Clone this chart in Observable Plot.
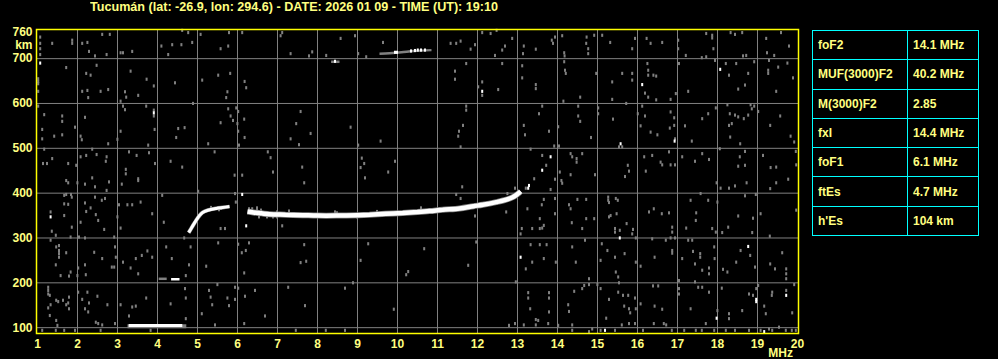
<!DOCTYPE html>
<html><head><meta charset="utf-8">
<script src="https://cdn.jsdelivr.net/npm/d3@7"></script>
<script src="https://cdn.jsdelivr.net/npm/@observablehq/plot@0.6"></script>
<style>
html,body{margin:0;padding:0;background:#000;}
#wrap{position:relative;width:998px;height:359px;overflow:hidden;background:#000;font-family:"Liberation Sans",Arial,sans-serif;font-weight:bold;color:#ffff80;}
#title{position:absolute;left:90px;top:0px;font-size:12px;line-height:14px;white-space:nowrap;transform-origin:0 0;}
#tbl{position:absolute;left:812px;top:30px;border-collapse:collapse;table-layout:fixed;width:166px;}
#tbl td{border:1px solid #00ffff;height:29.3px;padding:0 0 0 5px;font-size:12px;color:#ffff80;vertical-align:middle;white-space:nowrap;box-sizing:border-box;}
#chart{position:absolute;left:0;top:0;}
</style></head>
<body><div id="wrap"><div id="chart"></div><div id="title"></div><table id="tbl"></table></div>
<script>
// ---- texts ----
const station = "Tucumán";
const lat = "-26.9", lon = "294.6";
const dateStr = "2026 01 09", timeStr = "19:10";
const paramNames = ["foF2", "MUF(3000)F2", "M(3000)F2", "fxI", "foF1", "ftEs", "h'Es"];
const paramValues = ["14.1 MHz", "40.2 MHz", "2.85", "14.4 MHz", "6.1 MHz", "4.7 MHz", "104 km"];
const xTicks = [1,2,3,4,5,6,7,8,9,10,11,12,13,14,15,16,17,18,19,20];
const yTicks = [100,200,300,400,500,600,700,760];
const gridX = [2,3,4,5,6,7,8,9,10,11,12,13,14,15,16,17,18,19];
const gridY = [100,200,300,400,500,600,700];

// ---- echo traces [MHz, km] ----
const f2Trace = [[6.25,359],[6.4,357],[6.6,355],[6.8,353],[7.2,352],[7.63,351],[8.0,350],[8.47,350],[9.0,351],[9.3,352],[9.7,354],[10.13,356],[10.5,358],[10.8,360],[11.13,363],[11.55,366],[11.9,371],[12.13,374],[12.47,380],[12.7,385],[12.88,391],[13.0,398],[13.08,404]];
const f2Bits = [[6.3,364],[6.38,364],[6.5,362],[6.6,361],[6.75,346],[7.0,346],[7.3,359],[8.45,357],[9.5,358]];
const f1Trace = [[4.78,312],[4.88,327],[4.97,340],[5.05,350],[5.13,357],[5.26,362],[5.47,366],[5.63,368],[5.80,370]];
const esTrace = [[3.28,105],[3.6,105],[4.0,105],[4.3,105],[4.62,105]];
const esShadow = [[3.25,103],[4.72,103]];
const es2Gray = [[4.03,209],[4.23,209]];
const es2White = [[4.34,208],[4.55,208]];
const topGray1 = [[8.34,693],[8.55,693]];
const topGray2 = [[9.55,711],[9.8,712],[10.1,714],[10.4,717],[10.85,719]];
const topWhite = [[8.45,693],[9.95,713],[10.0,713],[10.35,716],[10.45,717],[10.52,718],[10.6,718],[10.7,718]];

// ---- scattered specks [MHz, km] ----
const specksWhite = [[1.08,689],[1.34,346],[3.92,578],[6.13,396],[6.23,326],[12.13,626],[16.13,641],[18.08,675],[16.94,515],[15.59,509],[13.84,480],[13.63,450],[13.3,416],[13.09,256],[15.57,299],[18.78,280],[17.99,120],[18.98,157],[18.98,162],[19.73,171],[15.20,93],[19.18,90],[13.28,410]];
const specksGray = [
[1.08,747],[1.08,733],[1.08,721],[1.08,708],[1.38,733],[1.88,740],[1.88,733],[2.13,733],[2.26,735],[2.30,715],[2.45,705],[2.63,753],[2.82,753],[2.74,708],[3.09,712],[3.15,712],[3.38,715],[4.11,727],[4.28,708],[4.38,730],[4.61,730],[4.63,762],[4.78,757],[4.88,735],[5.09,753],[5.59,721],[5.80,757],[5.78,727],[6.13,757],[7.13,757],[7.09,750],[7.34,710],[7.88,714],[7.80,705],[8.23,706],[8.59,744],[8.95,750],[9.03,710],[9.23,703],[9.65,735],
[1.03,654],[1.03,648],[1.03,643],[1.03,626],[1.73,679],[2.23,666],[2.34,662],[2.49,684],[2.26,628],[2.13,626],[2.59,626],[2.78,630],[2.28,612],[3.34,671],[3.20,625],[3.23,613],[3.09,604],[3.53,617],[3.74,653],[3.92,638],[4.45,645],[5.13,651],[5.53,662],[5.83,666],[5.76,625],[5.73,612],[6.19,648],[6.23,634],
[1.03,593],[1.18,574],[1.63,571],[1.63,559],[1.13,541],[1.43,526],[1.63,529],[1.95,546],[1.13,520],[2.09,526],[2.12,518],[2.20,568],[2.78,509],[3.01,519],[3.09,537],[3.15,593],[3.20,585],[3.73,593],[3.92,584],[3.92,571],[3.78,506],[3.94,541],[4.53,543],[4.69,545],[4.48,523],[4.90,599],[5.28,509],[5.59,556],[5.78,587],[5.84,571],[5.90,561],[5.98,589],[6.03,581],[6.01,554],[6.18,564],[6.03,537],[6.19,523],[6.05,506],[7.59,581],[7.48,554],[7.34,520],[7.55,507],[7.84,532],[8.84,546],[9.03,506],[9.59,515],
[1.18,497],[1.15,465],[1.25,465],[1.38,476],[1.78,465],[1.98,461],[2.09,480],[2.23,483],[2.38,497],[2.49,485],[2.74,480],[2.72,470],[3.22,452],[3.22,442],[3.53,431],[3.53,427],[3.49,483],[3.30,491],[3.80,489],[3.95,465],[4.34,470],[4.63,457],[5.44,491],[5.94,439],[6.13,439],[6.77,491],[6.84,478],[6.90,446],[7.63,457],[7.68,422],[9.12,477],[9.18,465],[9.09,456],[9.20,433],[9.78,446],[9.95,470],[1.73,427],[1.78,422],[2.01,422],[2.20,419],[2.45,413],[2.38,433],[2.80,424],[3.12,419],
[1.68,394],[1.73,396],[1.85,396],[1.78,374],[1.68,375],[1.87,390],[1.34,357],[1.68,349],[2.20,377],[2.23,358],[2.34,366],[2.45,390],[2.47,351],[2.53,338],[2.62,383],[2.74,405],[2.70,387],[3.05,373],[3.26,373],[3.38,373],[3.59,379],[4.13,394],[3.88,353],[4.17,334],[2.68,318],[2.09,334],[1.87,323],[1.47,305],[1.37,314],[1.34,294],[1.84,301],[2.20,299],[2.93,301],[2.05,301],[3.09,321],[3.01,346],[5.03,403],[5.95,398],[5.97,379],[5.59,320],[5.70,320],[7.13,326],[5.35,367],[5.55,362],[5.6,365],[6.5,366],[6.55,346],[6.9,346],[7.0,357],[8.5,355],[9.0,346],[10.6,366],
[1.55,271],[1.55,264],[1.55,256],[1.48,279],[1.55,282],[1.73,266],[1.47,239],[1.59,215],[1.80,214],[1.84,223],[2.03,232],[2.01,215],[2.22,217],[2.20,239],[2.43,267],[2.63,253],[2.87,234],[2.93,234],[2.95,279],[2.97,256],[3.15,245],[3.34,232],[3.53,219],[3.47,253],[3.62,260],[3.76,270],[3.88,256],[4.23,279],[4.37,253],[4.68,299],[4.84,279],[4.80,239],[5.53,288],[5.23,236],[6.03,285],[6.12,266],[6.22,271],[6.30,288],[6.18,221],[7.68,284],[7.73,247],[7.59,244],[9.28,286],[9.09,249],[10.23,217],[10.28,224],[4.72,215],
[1.28,189],[1.28,182],[1.28,174],[1.32,171],[1.34,150],[1.28,143],[1.48,160],[1.53,157],[1.65,160],[1.73,150],[1.80,167],[1.78,154],[1.80,141],[1.32,126],[1.48,115],[1.51,104],[2.03,178],[2.13,162],[2.26,178],[2.30,154],[2.20,141],[2.28,134],[2.51,169],[2.76,150],[2.47,111],[2.53,108],[2.63,105],[2.95,108],[3.09,150],[3.30,125],[3.47,147],[3.38,145],[3.73,165],[4.34,152],[4.70,186],[4.72,165],[5.12,130],[5.30,182],[5.34,167],[5.38,150],[5.51,195],[5.76,165],[5.80,148],[5.95,162],[5.95,189],[6.03,187],[6.20,169],[6.45,182],[6.70,125],[7.28,189],[7.70,148],[8.70,187],[8.90,199],[9.92,140],[4.72,119],[5.45,105],[6.18,108],
[1.13,93],[1.47,93],[1.68,93],[1.95,93],[2.59,93],[3.84,93],[7.47,93],[8.22,93],[8.70,93],
[12.13,757],[12.34,755],[12.49,762],[11.34,733],[11.48,733],[11.59,738],[11.84,720],[11.95,730],[12.45,706],[12.63,718],[12.70,727],[12.88,744],[13.17,727],[13.15,710],[13.47,720],[13.95,747],[13.90,733],[13.87,740],[14.13,750],[14.18,712],[14.19,705],[14.74,747],[14.73,733],[14.78,721],[14.78,710],[14.93,751],[15.33,735],[15.13,751],[15.95,744],[15.88,721],[16.24,744],[16.34,733],[16.63,735],[17.03,740],[17.03,721],[17.22,706],[17.73,755],[17.88,751],[17.88,745],[17.73,703],[17.91,721],[18.34,757],[18.45,753],[18.63,757],[18.73,706],[18.65,705],[19.23,744],[19.25,712],[19.43,706],[19.60,757],[19.80,727],
[11.45,671],[11.45,653],[11.73,688],[12.13,647],[12.03,636],[12.13,617],[12.53,630],[12.63,688],[13.13,683],[13.13,656],[13.47,641],[13.47,632],[14.18,692],[14.20,673],[14.22,666],[14.16,604],[14.58,613],[14.98,666],[15.38,647],[15.38,608],[15.63,666],[15.88,666],[15.88,651],[16.26,688],[16.28,673],[16.28,662],[16.41,662],[16.48,660],[16.20,622],[16.28,613],[16.48,607],[16.84,608],[16.97,621],[17.05,688],[17.28,626],[17.62,701],[17.95,695],[18.22,688],[18.48,688],[18.30,662],[18.53,631],[18.70,640],[18.78,666],[18.93,692],[19.30,695],[19.28,673],[19.28,666],[19.53,680],[19.76,689],[19.48,626],[19.90,656],
[11.73,593],[11.73,584],[11.65,550],[11.55,537],[11.53,526],[11.59,502],[13.17,550],[13.20,529],[13.55,576],[13.63,593],[13.80,537],[14.03,547],[14.53,593],[14.53,571],[14.58,559],[14.85,523],[15.03,589],[15.03,576],[15.40,564],[15.73,599],[16.02,576],[16.13,593],[16.09,549],[16.20,571],[16.34,535],[16.51,529],[16.82,544],[16.84,580],[16.93,567],[16.93,550],[16.95,520],[17.20,549],[17.37,515],[17.63,565],[17.78,576],[17.97,589],[18.26,596],[18.32,576],[18.37,554],[18.30,550],[18.45,573],[18.53,569],[18.67,565],[18.78,573],[18.87,587],[18.93,593],[18.84,596],[19.03,581],[19.33,550],[19.58,571],[19.84,526],[19.93,513],[18.33,524],[18.58,509],[15.63,502],[15.55,502],
[13.93,504],[14.05,504],[13.34,497],[13.63,483],[13.73,461],[14.34,487],[14.38,480],[14.49,476],[14.49,468],[14.63,487],[14.34,440],[14.07,446],[14.11,427],[14.13,421],[13.43,431],[13.22,410],[13.84,407],[13.95,430],[14.95,440],[15.77,461],[15.70,436],[15.80,448],[16.22,448],[16.18,480],[16.38,483],[16.59,468],[16.63,462],[16.84,462],[16.80,491],[16.95,462],[17.13,480],[17.45,470],[17.63,487],[17.80,474],[17.99,422],[18.09,410],[18.07,498],[18.30,410],[18.45,415],[18.57,480],[18.53,459],[18.70,492],[18.70,461],[18.74,422],[19.15,483],[19.34,456],[19.48,457],[19.48,422],[19.78,430],[19.97,492],[19.98,462],[19.33,409],[11.63,413],[11.48,396],[11.59,387],[12.76,398],[12.95,410],
[11.95,348],[12.73,357],[13.12,320],[13.09,308],[13.26,364],[13.38,320],[13.57,320],[13.63,321],[13.67,327],[13.62,373],[13.67,385],[13.57,342],[13.95,387],[13.95,353],[14.30,373],[14.34,364],[14.37,333],[14.51,385],[14.73,385],[14.73,342],[14.63,320],[14.93,342],[15.28,390],[15.28,383],[15.30,378],[15.47,387],[15.52,383],[15.30,346],[15.34,349],[15.49,353],[15.45,320],[15.45,312],[15.57,316],[15.74,331],[15.90,318],[15.88,308],[15.97,299],[16.30,357],[16.42,364],[16.38,297],[16.62,353],[16.80,355],[16.88,323],[16.88,312],[16.84,299],[16.95,299],[17.23,321],[17.34,383],[17.48,355],[17.47,338],[17.59,398],[17.78,383],[17.88,320],[17.97,312],[18.01,379],[18.13,311],[18.28,323],[18.53,348],[18.90,343],[18.88,311],[19.09,353],[19.32,303],[19.98,361],[18.97,396],[18.70,393],
[10.68,275],[11.78,238],[11.98,290],[13.22,230],[13.38,245],[13.34,284],[13.57,284],[13.74,284],[13.67,253],[13.97,245],[14.38,279],[14.47,245],[14.70,294],[14.80,208],[15.12,286],[15.09,249],[15.26,271],[15.45,256],[15.47,223],[15.53,212],[15.97,245],[15.69,264],[16.09,236],[16.44,256],[16.72,294],[16.88,271],[16.88,265],[17.05,204],[17.13,253],[17.28,294],[17.38,294],[17.40,269],[17.45,241],[17.58,264],[17.58,256],[17.63,227],[17.80,219],[17.93,279],[17.94,253],[17.80,232],[18.15,229],[18.26,223],[18.48,245],[18.59,271],[18.83,260],[18.95,234],[19.33,241],[19.45,230],[19.63,266],[19.73,230],[19.73,219],[19.73,208],
[12.97,201],[13.28,177],[13.28,165],[13.33,141],[13.47,117],[13.53,115],[13.80,177],[13.80,165],[13.80,134],[14.28,150],[14.30,135],[14.43,180],[14.63,186],[14.68,193],[14.80,195],[15.01,195],[15.09,186],[15.30,162],[15.23,120],[15.53,178],[15.55,199],[15.65,171],[15.68,147],[15.78,171],[15.80,141],[15.83,132],[15.95,165],[15.97,141],[16.09,152],[16.40,192],[16.44,147],[16.53,192],[16.63,140],[16.67,108],[17.05,186],[17.05,174],[17.34,141],[17.45,201],[17.63,189],[17.53,189],[17.72,108],[17.80,178],[18.01,137],[18.12,187],[18.30,130],[18.30,119],[18.63,137],[18.80,174],[18.98,186],[19.03,193],[18.90,171],[19.18,147],[19.22,130],[19.37,171],[19.38,178],[19.73,182],[19.93,195],[19.88,132],
[12.80,104],[12.95,108],[13.17,105],[13.47,105],[13.78,108],[14.03,104],[14.38,105],[14.38,93],[14.80,90],[14.88,96],[15.09,93],[15.45,93],[15.62,105],[15.80,108],[15.95,108],[16.15,93],[16.42,108],[16.73,105],[16.87,93],[17.18,93],[17.47,93],[17.62,93],[17.93,93],[18.22,93],[18.45,93],[18.80,93],[19.09,93],[19.30,96],[19.38,93],[19.55,100],[19.72,93],[19.87,93],[19.97,93]
];

const GRAY = "#808080", YEL = "#ffff00", TXT = "#ffff80";
const X = d => d[0], Y = d => d[1];
// small pixel-like speck: 2 px wide (0.05 MHz), ~3 px tall (7 km)
const speck = (data, fill) => Plot.rect(data, {x1: d => d[0] - 0.025, x2: d => d[0] + 0.025, y1: d => d[1] - 3.5, y2: d => d[1] + 3.5, fill, inset: 0});
const trace = (data, stroke, w, curve = "catmull-rom") => Plot.line(data, {x: X, y: Y, stroke, strokeWidth: w, curve, strokeLinecap: "butt", strokeLinejoin: "miter"});

const chart = Plot.plot({
  width: 998, height: 359,
  marginLeft: 36, marginRight: 200, marginTop: 29, marginBottom: 26,
  style: {background: "#000", color: TXT, fontFamily: "'Liberation Sans', Arial, sans-serif", fontSize: "12px", fontWeight: "bold"},
  x: {domain: [0.975, 20.025]},
  y: {domain: [87, 765]},
  marks: [
    Plot.ruleX(gridX, {stroke: GRAY, strokeWidth: 1}),
    Plot.ruleY(gridY, {stroke: GRAY, strokeWidth: 1}),
    speck(specksGray, GRAY),
    trace(esShadow, GRAY, 4, "linear"),
    trace(esTrace, "#fff", 3, "linear"),
    trace(es2Gray, GRAY, 2.5, "linear"),
    trace(es2White, "#fff", 2.5, "linear"),
    trace(topGray1, GRAY, 2.5, "linear"),
    trace(topGray2, GRAY, 2.5),
    speck(topWhite, "#fff"),
    trace(f1Trace, GRAY, 4),
    trace(f1Trace, "#fff", 3),
    speck(f2Bits, GRAY),
    trace(f2Trace, GRAY, 6),
    trace(f2Trace, "#fff", 4.5),
    speck(specksWhite, "#fff"),
    Plot.frame({stroke: YEL, strokeWidth: 1.5}),
    Plot.axisX(xTicks, {tickSize: 0, tickPadding: 6, tickFormat: d => String(d), label: null, fill: TXT}),
    Plot.axisY(yTicks, {tickSize: 0, tickPadding: 4, tickFormat: d => String(d), label: null, fill: TXT}),
    Plot.text(["km"], {x: 1, y: 731, text: d => d, textAnchor: "end", dx: -5, fill: TXT}),
    Plot.text(["MHz"], {x: 19.58, frameAnchor: "bottom", dy: 23, lineAnchor: "bottom", text: d => d, fill: TXT})
  ]
});
document.getElementById("chart").appendChild(chart);

const title = document.getElementById("title");
title.textContent = `${station} (lat: ${lat}, lon: ${lon}) - DATE: ${dateStr} - TIME (UT): ${timeStr}`;
const w = title.getBoundingClientRect().width;
title.style.transform = `scaleX(${408 / w})`;

const tbl = document.getElementById("tbl");
tbl.innerHTML = `<colgroup><col style="width:95px"><col style="width:71px"></colgroup>` +
  paramNames.map((n, i) => `<tr><td>${n}</td><td>${paramValues[i]}</td></tr>`).join("");
</script></body></html>
